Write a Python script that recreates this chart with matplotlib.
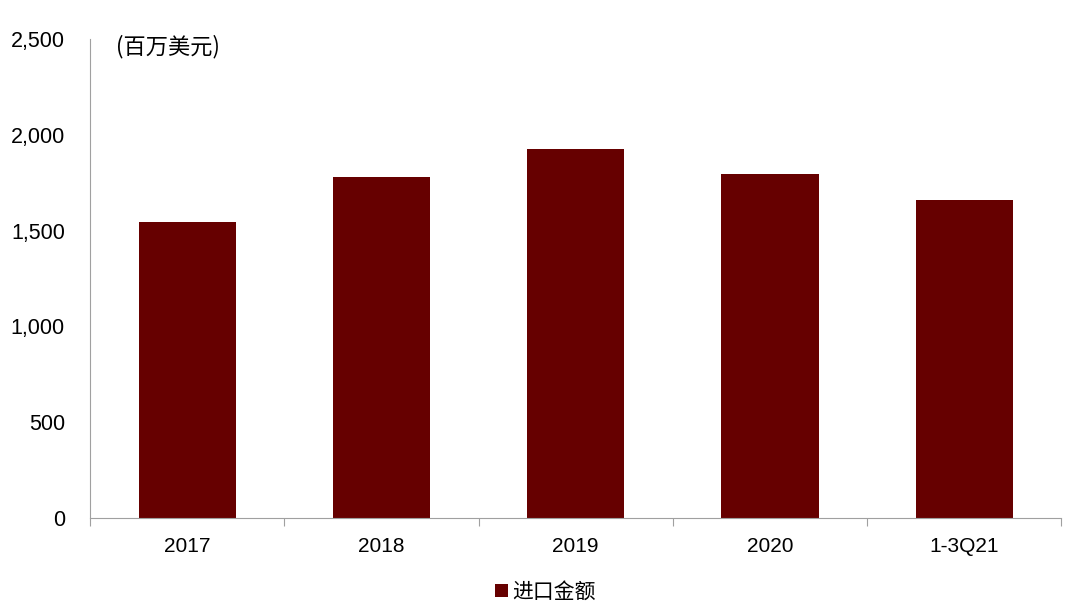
import numpy as np
import matplotlib.pyplot as plt
from matplotlib.ticker import FuncFormatter

plt.rcParams['font.family'] = ['Liberation Sans', 'Noto Sans CJK SC', 'DejaVu Sans']

# 进口金额 (百万美元)
categories = ['2017', '2018', '2019', '2020', '1-3Q21']
import_values = [1545, 1780, 1928, 1795, 1660]

fig = plt.figure(figsize=(10.8, 6.13), dpi=100)
ax = fig.add_axes([0.0833, 0.155, 0.8995, 0.781])

x = np.arange(len(categories))
ax.bar(x, import_values, width=0.5, color='#660000', label='进口金额', zorder=2)

ax.set_xlim(-0.5, len(categories) - 0.5)
ax.set_ylim(0, 2500)
ax.set_yticks(np.arange(0, 2501, 500))
ax.yaxis.set_major_formatter(FuncFormatter(lambda v, p: f'{int(v):,}'))

# x ticks sit between the categories, labels centred under bars
ax.set_xticks(np.arange(-0.5, len(categories), 1.0))
ax.set_xticklabels([])
ax.set_xticks(x, minor=True)
ax.set_xticklabels(categories, minor=True, fontsize=15)
ax.tick_params(axis='x', which='minor', length=0, pad=14)
ax.tick_params(axis='x', which='major', length=6, color='#a0a0a0', direction='out')
ax.tick_params(axis='y', length=0, labelsize=15.5, pad=18)

for side in ['top', 'right']:
    ax.spines[side].set_visible(False)
ax.spines['left'].set_color('#a0a0a0')
ax.spines['bottom'].set_color('#a0a0a0')

ax.text(0.027, 0.985, '(百万美元)', transform=ax.transAxes, fontsize=16,
        va='center', ha='left', family=['Noto Sans CJK SC', 'DejaVu Sans'])

fig.legend(*ax.get_legend_handles_labels(), loc='center',
           bbox_to_anchor=(0.505, 0.034), frameon=False,
           handlelength=0.6, handleheight=0.6, handletextpad=0.2,
           prop={'family': ['Noto Sans CJK SC', 'DejaVu Sans'], 'size': 15})

fig.savefig('out.png', dpi=100)
